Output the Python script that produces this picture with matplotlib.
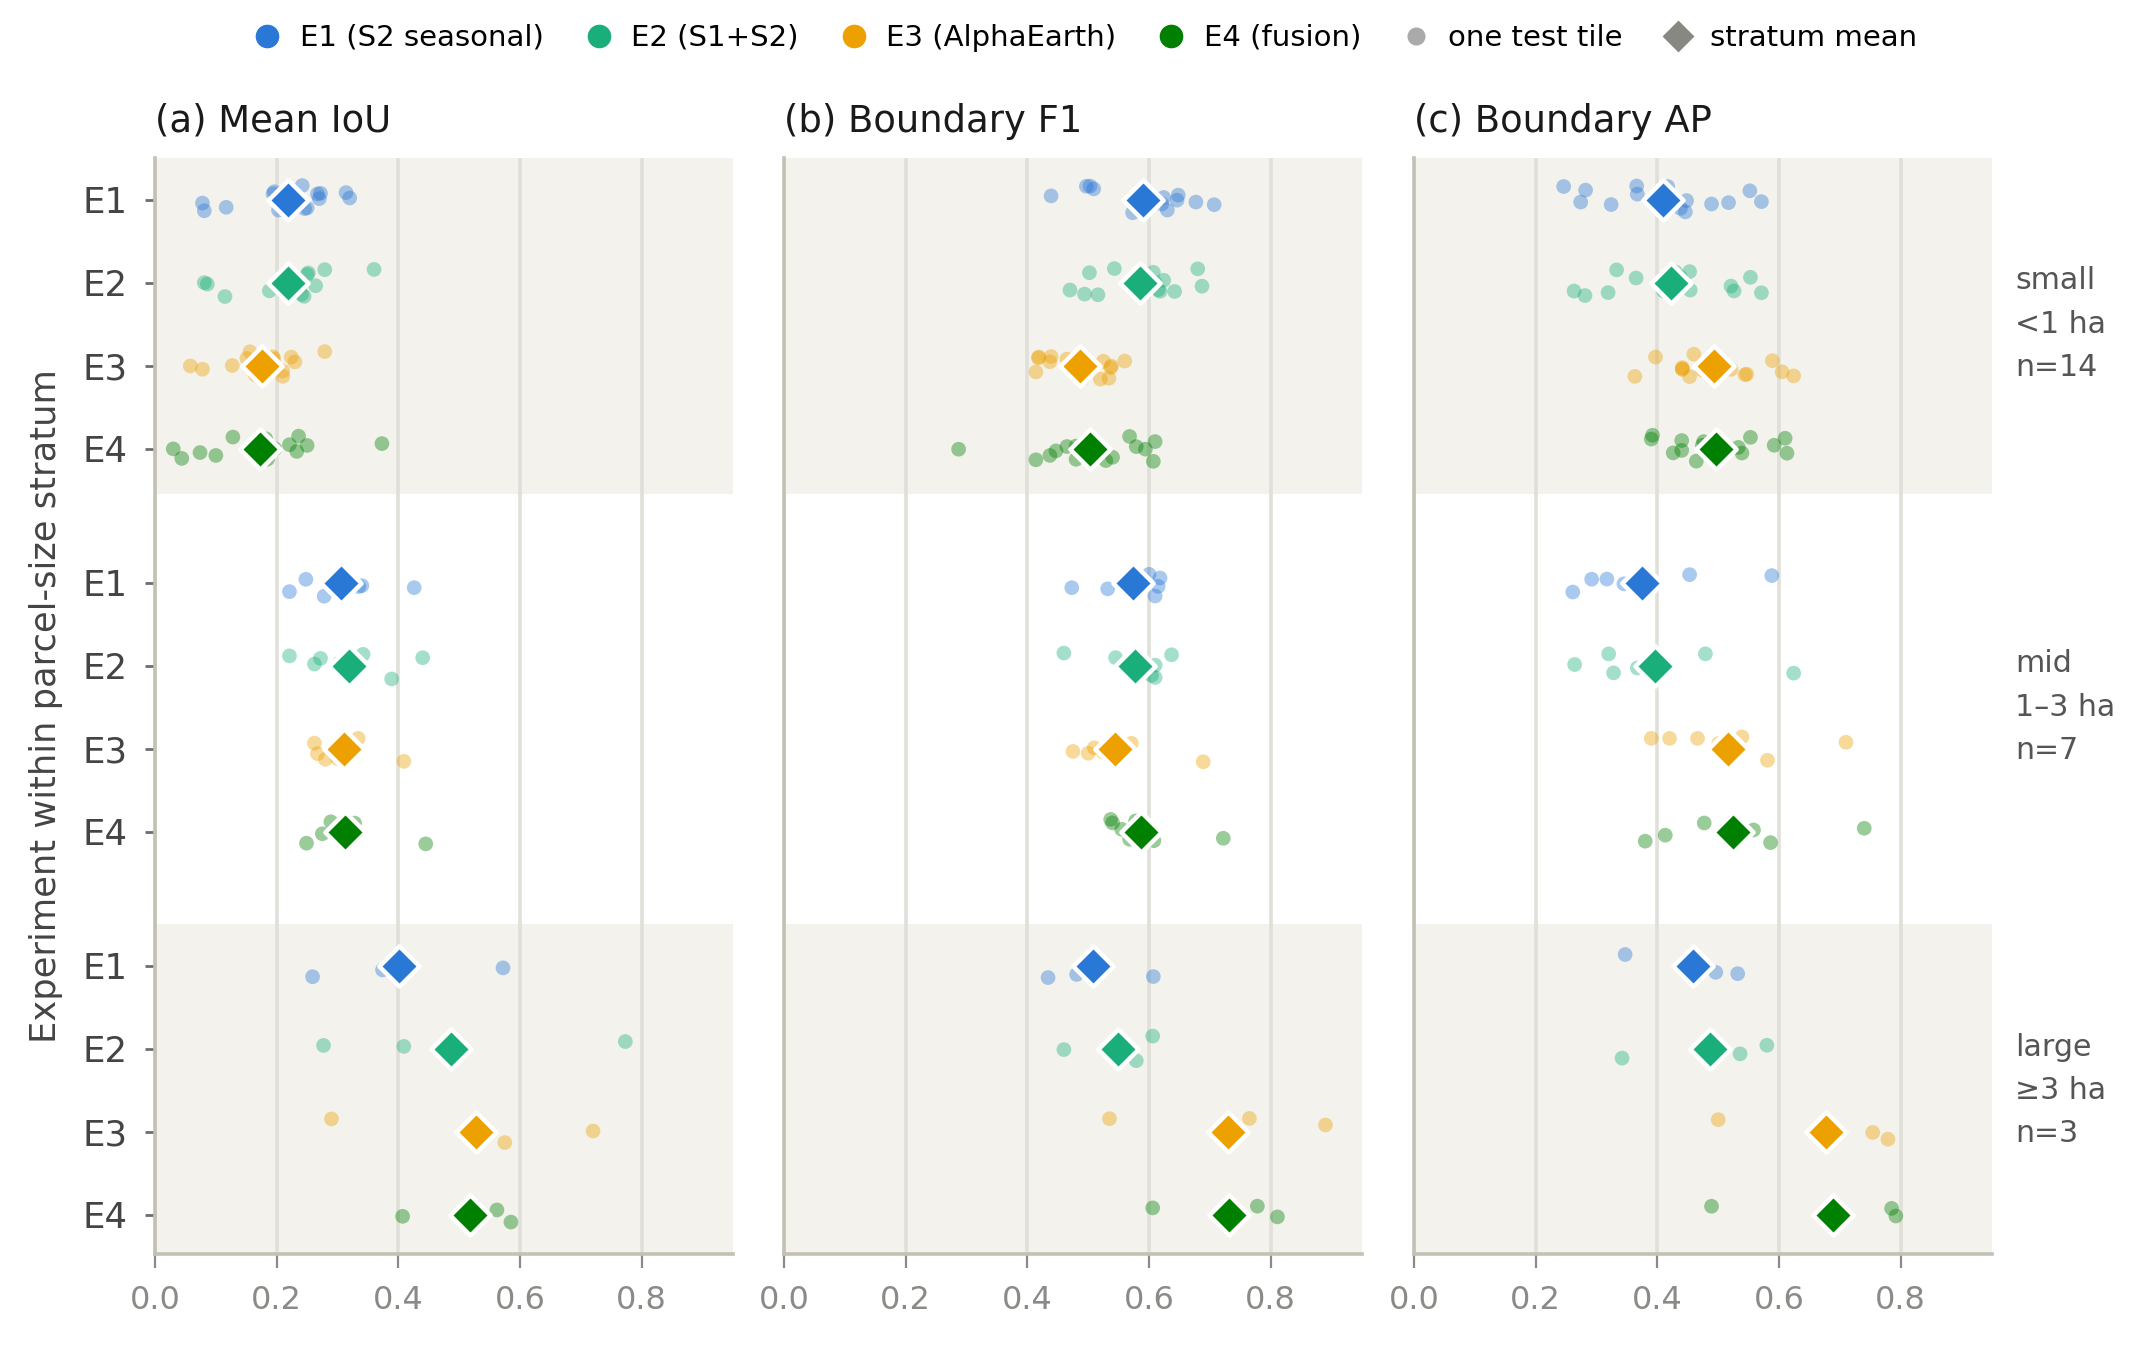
import numpy as np
import matplotlib
matplotlib.use("Agg")
import matplotlib.pyplot as plt
from matplotlib.lines import Line2D
from matplotlib.transforms import blended_transform_factory

# ---------------- data ----------------
experiments = ["E1", "E2", "E3", "E4"]
exp_labels = ["E1 (S2 seasonal)", "E2 (S1+S2)", "E3 (AlphaEarth)", "E4 (fusion)"]
strata_labels = ["small\n<1 ha\nn=14", "mid\n1\u20133 ha\nn=7", "large\n\u22653 ha\nn=3"]
panel_titles = ["(a) Mean IoU", "(b) Boundary F1", "(c) Boundary AP"]
xtick_values = [0.0, 0.2, 0.4, 0.6, 0.8]

iou_small = [
    [0.078, 0.081, 0.117, 0.196, 0.194, 0.203, 0.242, 0.246, 0.250, 0.270, 0.267, 0.272, 0.314, 0.320],
    [0.081, 0.086, 0.115, 0.188, 0.239, 0.245, 0.250, 0.252, 0.264, 0.279, 0.360, 0.220, 0.232, 0.241],
    [0.078, 0.058, 0.127, 0.151, 0.156, 0.194, 0.210, 0.224, 0.230, 0.279, 0.165, 0.180, 0.195, 0.210],
    [0.030, 0.044, 0.074, 0.100, 0.128, 0.169, 0.197, 0.185, 0.221, 0.233, 0.236, 0.250, 0.373, 0.182],
]
iou_mid = [
    [0.221, 0.248, 0.278, 0.295, 0.340, 0.335, 0.426],
    [0.221, 0.262, 0.272, 0.303, 0.342, 0.389, 0.440],
    [0.267, 0.262, 0.280, 0.318, 0.334, 0.300, 0.409],
    [0.249, 0.275, 0.289, 0.328, 0.445, 0.295, 0.310],
]
iou_large = [
    [0.259, 0.374, 0.572],
    [0.277, 0.409, 0.773],
    [0.290, 0.575, 0.720],
    [0.407, 0.562, 0.585],
]

f1_small = [
    [0.503, 0.439, 0.497, 0.509, 0.573, 0.621, 0.624, 0.646, 0.630, 0.648, 0.677, 0.707, 0.580, 0.605],
    [0.470, 0.494, 0.502, 0.516, 0.543, 0.615, 0.618, 0.607, 0.624, 0.642, 0.680, 0.687, 0.580, 0.610],
    [0.414, 0.418, 0.419, 0.437, 0.439, 0.525, 0.534, 0.537, 0.560, 0.465, 0.490, 0.505, 0.520, 0.538],
    [0.287, 0.414, 0.437, 0.447, 0.465, 0.480, 0.480, 0.529, 0.568, 0.579, 0.594, 0.607, 0.610, 0.540],
]
f1_mid = [
    [0.473, 0.532, 0.615, 0.610, 0.618, 0.570, 0.600],
    [0.460, 0.545, 0.610, 0.604, 0.637, 0.575, 0.610],
    [0.475, 0.500, 0.571, 0.689, 0.510, 0.525, 0.534],
    [0.540, 0.537, 0.555, 0.568, 0.608, 0.722, 0.578],
]
f1_large = [
    [0.434, 0.481, 0.607],
    [0.460, 0.579, 0.606],
    [0.535, 0.765, 0.890],
    [0.606, 0.778, 0.811],
]

ap_small = [
    [0.246, 0.274, 0.282, 0.324, 0.366, 0.367, 0.446, 0.448, 0.438, 0.489, 0.517, 0.552, 0.571, 0.417],
    [0.263, 0.281, 0.319, 0.333, 0.365, 0.438, 0.453, 0.521, 0.526, 0.553, 0.571, 0.410, 0.430, 0.454],
    [0.363, 0.397, 0.441, 0.441, 0.441, 0.460, 0.474, 0.521, 0.544, 0.547, 0.589, 0.605, 0.624, 0.453],
    [0.390, 0.392, 0.426, 0.440, 0.440, 0.464, 0.474, 0.476, 0.533, 0.539, 0.553, 0.592, 0.610, 0.613],
]
ap_mid = [
    [0.261, 0.292, 0.317, 0.345, 0.453, 0.588, 0.368],
    [0.264, 0.320, 0.328, 0.367, 0.387, 0.479, 0.624],
    [0.390, 0.420, 0.466, 0.539, 0.581, 0.710, 0.501],
    [0.380, 0.413, 0.477, 0.558, 0.586, 0.740, 0.513],
]
ap_large = [
    [0.347, 0.496, 0.532],
    [0.342, 0.536, 0.580],
    [0.500, 0.754, 0.779],
    [0.489, 0.785, 0.792],
]

panels = [
    [iou_small, iou_mid, iou_large],
    [f1_small, f1_mid, f1_large],
    [ap_small, ap_mid, ap_large],
]

# ---------------- style ----------------
colors = ["#2a78d6", "#1aaf7a", "#eda100", "#008000"]
band_color = "#f3f2ed"
grid_color = "#e0dfd8"
spine_color = "#c2c1b4"
STEP = 4.615  # vertical distance between strata blocks (row units)

plt.rcParams["font.family"] = ["DejaVu Sans"]

fig = plt.figure(figsize=(2149 / 200, 1352 / 200), dpi=200)
lefts = [155 / 2149, 784 / 2149, 1414 / 2149]
width = 578 / 2149
bottom = 1 - 1254 / 1352
height = (1254 - 158) / 1352

rng = np.random.default_rng(7)

axes = []
for p, (left, data, title) in enumerate(zip(lefts, panels, panel_titles)):
    ax = fig.add_axes([left, bottom, width, height])
    axes.append(ax)
    for s in (0, 2):
        ax.axhspan(s * STEP - 0.5, s * STEP + 3.55, color=band_color, zorder=0, lw=0)
    yt, yl = [], []
    for s, stratum in enumerate(data):
        for i, vals in enumerate(stratum):
            y0 = s * STEP + i
            yt.append(y0)
            yl.append(experiments[i])
            vals = np.asarray(vals)
            jit = rng.uniform(-0.17, 0.17, size=len(vals))
            ax.scatter(vals, y0 + jit, s=28, color=colors[i], alpha=0.4,
                       edgecolors="none", zorder=3)
            ax.scatter([vals.mean()], [y0], s=105, marker="D", color=colors[i],
                       edgecolors="white", linewidths=1.6, zorder=4)
    ax.set_xlim(0, 0.95)
    ax.set_ylim(2 * STEP + 3 + 0.47, -0.5)
    ax.set_yticks(yt)
    ax.set_yticklabels(yl)
    ax.set_xticks(xtick_values)
    ax.set_xticklabels([f"{v:.1f}" for v in xtick_values])
    ax.set_axisbelow(True)
    ax.grid(axis="x", color=grid_color, lw=1.3)
    ax.grid(axis="y", visible=False)
    for side in ("top", "right"):
        ax.spines[side].set_visible(False)
    for side in ("left", "bottom"):
        ax.spines[side].set_color(spine_color)
        ax.spines[side].set_linewidth(1.3)
    ax.tick_params(axis="x", colors="#8a8a86", labelsize=11.5, length=5, width=0.8, pad=6)
    ax.tick_params(axis="y", colors="#6e6e6e", labelcolor="#444444", labelsize=12.8,
                   length=3.5, width=1.0, pad=6.5)
    if p != 0:
        ax.tick_params(axis="y", labelleft=False, length=0)
    ax.set_title(title, loc="left", fontsize=13.3, pad=9.5, color="#1a1a1a")

axes[0].set_ylabel("Experiment within parcel-size stratum", fontsize=12.7,
                   color="#444444", labelpad=7)

trans = blended_transform_factory(axes[2].transAxes, axes[2].transData)
for s, lab in enumerate(strata_labels):
    axes[2].text(1.04, s * STEP + 1.5, lab, transform=trans, ha="left", va="center",
                 fontsize=10.8, color="#555555", linespacing=1.62)

handles = [Line2D([], [], marker="o", ls="", color=c, markersize=7.5) for c in colors]
handles.append(Line2D([], [], marker="o", ls="", color="#aaaaaa", markersize=5.5))
handles.append(Line2D([], [], marker="D", ls="", color="#888882", markersize=7))
labels = exp_labels + ["one test tile", "stratum mean"]
fig.legend(handles, labels, loc="center", bbox_to_anchor=(0.505, 0.972), ncol=6,
           frameon=False, fontsize=10.5, handletextpad=0.6, columnspacing=1.4,
           handlelength=1.0)

fig.savefig("out.png", dpi=200, facecolor="white")
